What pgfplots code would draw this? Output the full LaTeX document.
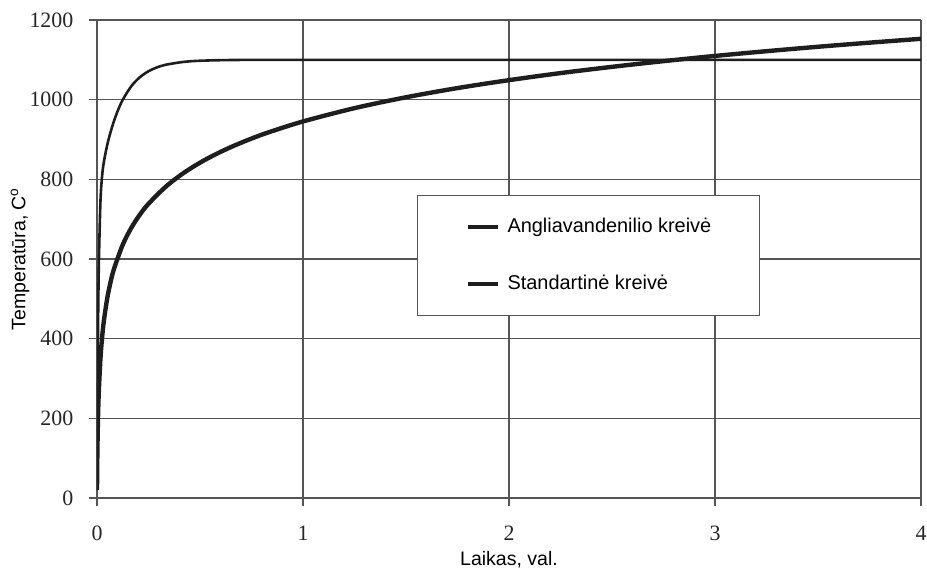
\documentclass[border=0pt]{standalone}
\usepackage{fontspec}
\setmainfont{Liberation Sans}
\newfontfamily\serifnum{Liberation Serif}
\usepackage{pgfplots}
\pgfplotsset{compat=1.18}
\definecolor{gridc}{HTML}{555555}
\definecolor{curvec}{HTML}{1E1E1E}
\begin{document}
\begin{tikzpicture}
\begin{axis}[
  scale only axis,
  width=412bp, height=239bp,
  xmin=0, xmax=4, ymin=0, ymax=1200,
  xtick={0,1,2,3,4}, ytick={0,200,...,1200},
  grid=major,
  major grid style={gridc, line width=0.6bp},
  axis line style={gridc, line width=0.7bp},
  tick style={gridc, line width=0.6bp},
  tick align=outside, major tick length=3.8bp,
  xtick pos=bottom, ytick pos=left,
  axis x line*=bottom, axis y line*=left,
  /pgf/number format/assume math mode=true,
  /pgf/number format/1000 sep={},
  tick label style={font=\serifnum\fontsize{11}{13}\selectfont, text=black!85},
  yticklabel style={xshift=-4.5bp},
  xticklabel style={yshift=-6.5bp},
  xlabel={Laikas, val.},
  ylabel={Temperatūra, C\textsuperscript{o}},
  label style={font=\fontsize{9.8}{12}\selectfont},
  x label style={at={([yshift=-31bp]axis description cs:0.5,0)}, anchor=center},
  y label style={at={([xshift=-38.5bp]axis description cs:0,0.5)}, anchor=center},
  legend style={at={(0.388,0.634)}, anchor=north west,
    draw=gridc, line width=0.6bp, fill=white,
    inner xsep=22bp, inner ysep=9.5bp,
    nodes={inner sep=2bp},
    row sep=15.5bp, column sep=2bp,
    font=\fontsize{10}{12}\selectfont},
  legend cell align=left,
  legend image code/.code={\path (0bp,0bp); \draw[line width=2bp, curvec] (2bp,0bp) -- (17bp,0bp);},
]
\addplot[curvec, line width=1.3bp, smooth] coordinates {
(0,20) (0.001667,187) (0.004167,373) (0.008333,568.2) (0.016667,743.2)
(0.025,809.6) (0.033333,843.8) (0.05,886.9) (0.066667,920.0) (0.083333,947.7)
(0.1,971.1) (0.125,999.7) (0.166667,1033.9) (0.208333,1056.5) (0.25,1071.3)
(0.291667,1081.1) (0.333333,1087.6) (0.416667,1094.6) (0.5,1097.7)
(0.666667,1099.6) (1,1100) (2,1100) (3,1100) (4,1100)
};
\addlegendentry{Angliavandenilio kreivė}
\addplot[curvec, line width=2.2bp, smooth] coordinates {
(0,20) (0.001667,108) (0.004167,184.6) (0.008333,261.2) (0.016667,349.2)
(0.025,404.3) (0.033333,444.5) (0.05,502.3) (0.066667,543.9) (0.083333,576.4)
(0.125,635.9) (0.166667,678.4) (0.208333,711.5) (0.25,738.6) (0.333333,781.3)
(0.416667,814.6) (0.5,841.8) (0.583333,864.8) (0.666667,884.7) (0.75,902.3)
(0.833333,918.1) (1,945.3) (1.25,978.7) (1.5,1006.0) (1.75,1029.1) (2,1049.0)
(2.25,1066.7) (2.5,1082.4) (2.75,1096.7) (3,1109.8) (3.25,1121.7) (3.5,1132.8)
(3.75,1143.1) (4,1152.8)
};
\addlegendentry{Standartinė kreivė}
\end{axis}
\pgfresetboundingbox
\path ([shift={(-48.5bp,-35bp)}]current axis.south west) rectangle ([shift={(3bp,10bp)}]current axis.north east);
\end{tikzpicture}
\end{document}
